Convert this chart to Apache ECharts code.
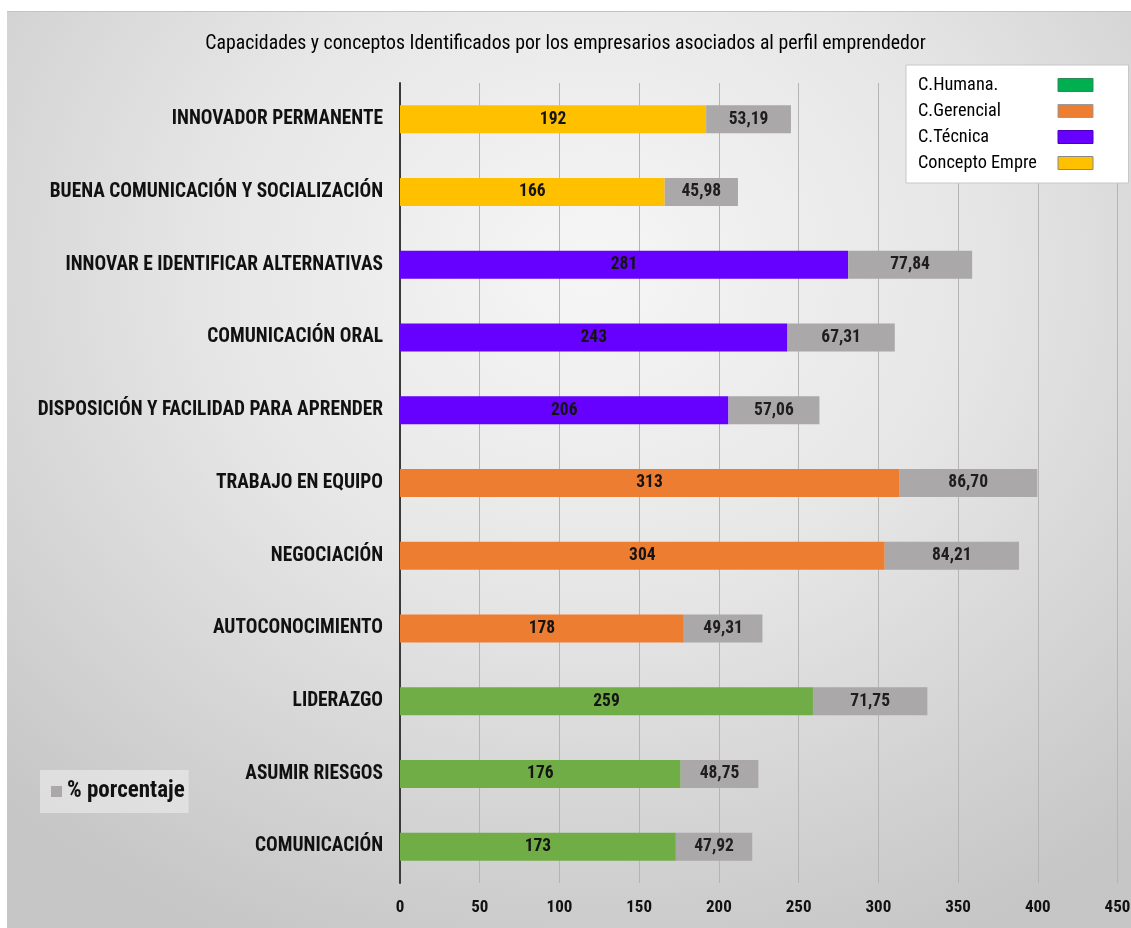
<!DOCTYPE html>
<html>
<head>
<meta charset="utf-8">
<script src="https://cdn.jsdelivr.net/npm/echarts@6/dist/echarts.min.js"></script>
<style>
  html, body { margin: 0; padding: 0; background: #ffffff; }
  #frame {
    position: absolute; left: 7px; top: 11px; width: 1124px; height: 917px;
    background: radial-gradient(ellipse 75% 80% at 52% 28%, #f6f6f6 0%, #e6e6e6 45%, #c6c6c6 100%);
    border-top: 1px solid #c4c4c4;
  }
  #chart { position: absolute; left: 0; top: 0; width: 1131px; height: 928px; }
</style>
</head>
<body>
<div id="frame"></div>
<div id="chart"></div>
<script>
const titleText = 'Capacidades y conceptos Identificados por los empresarios asociados al perfil emprendedor';

const categories = [
  'INNOVADOR PERMANENTE',
  'BUENA COMUNICACIÓN Y SOCIALIZACIÓN',
  'INNOVAR E IDENTIFICAR ALTERNATIVAS',
  'COMUNICACIÓN ORAL',
  'DISPOSICIÓN Y FACILIDAD PARA APRENDER',
  'TRABAJO EN EQUIPO',
  'NEGOCIACIÓN',
  'AUTOCONOCIMIENTO',
  'LIDERAZGO',
  'ASUMIR RIESGOS',
  'COMUNICACIÓN'
];

// group of each category (top to bottom)
const groups = [
  'Concepto Empre', 'Concepto Empre',
  'C.Técnica', 'C.Técnica', 'C.Técnica',
  'C.Gerencial', 'C.Gerencial', 'C.Gerencial',
  'C.Humana.', 'C.Humana.', 'C.Humana.'
];

const counts = [192, 166, 281, 243, 206, 313, 304, 178, 259, 176, 173];
const percents = [53.19, 45.98, 77.84, 67.31, 57.06, 86.70, 84.21, 49.31, 71.75, 48.75, 47.92];

const groupNames = ['C.Humana.', 'C.Gerencial', 'C.Técnica', 'Concepto Empre'];
const barColors = { 'C.Humana.': '#70AD47', 'C.Gerencial': '#ED7D31', 'C.Técnica': '#6600FF', 'Concepto Empre': '#FFC000' };
const legendColors = { 'C.Humana.': '#00B050', 'C.Gerencial': '#ED7D31', 'C.Técnica': '#6600FF', 'Concepto Empre': '#FFC000' };
const legendBorders = { 'C.Humana.': '#2E8B57', 'C.Gerencial': '#9a9a9a', 'C.Técnica': '#4a00c0', 'Concepto Empre': '#8a8a8a' };
const pctName = '% porcentaje';
const pctColor = '#AAA8A8';

const xTicks = { min: 0, max: 450, interval: 50 };

const FONT = "'Liberation Sans Narrow', 'Roboto Condensed', 'DejaVu Sans Condensed', 'Roboto', sans-serif";

// size text so that a sample string takes the width it has in the reference
const mctx = document.createElement('canvas').getContext('2d');
function fitSize(text, weight, target, maxSize) {
  mctx.font = weight + ' 100px ' + FONT;
  const s = 100 * target / mctx.measureText(text).width;
  return Math.min(maxSize, Math.round(s * 10) / 10);
}
const catSize = fitSize('DISPOSICIÓN Y FACILIDAD PARA APRENDER', 'bold', 346, 20);
const titleSize = fitSize(titleText, 'normal', 723, 20);
const legendSize = fitSize('Concepto Empre', 'normal', 119, 20);
const barLblSize = fitSize('86,70', 'bold', 44, 17.5);
const tickSize = 17;
const pctSize = fitSize(pctName, 'bold', 122, 23);

const chart = echarts.init(document.getElementById('chart'), null, { renderer: 'canvas' });

const groupSeries = groupNames.map(g => ({
  name: g,
  type: 'bar',
  stack: 'total',
  barWidth: 28,
  data: counts.map((v, i) => groups[i] === g ? v : '-'),
  itemStyle: { color: barColors[g] },
  label: {
    show: true, position: 'inside', color: '#141414',
    fontFamily: FONT, fontWeight: 'bold', fontSize: barLblSize
  }
}));

const pctSeries = {
  name: pctName,
  type: 'bar',
  stack: 'total',
  barWidth: 28,
  data: percents,
  itemStyle: { color: pctColor },
  label: {
    show: true, position: 'inside', color: '#1e1e1e',
    fontFamily: FONT, fontWeight: 'bold', fontSize: barLblSize,
    formatter: p => p.value.toFixed(2).replace('.', ',')
  }
};

chart.setOption({
  backgroundColor: 'transparent',
  animation: false,
  textStyle: { fontFamily: FONT },
  title: {
    text: titleText,
    left: 'center',
    top: 42 - titleSize * 0.65,
    textStyle: { fontFamily: FONT, fontSize: titleSize, fontWeight: 'normal', color: '#000' }
  },
  legend: [
    {
      data: groupNames.map(g => ({
        name: g,
        itemStyle: { color: legendColors[g], borderColor: legendBorders[g], borderWidth: 1 }
      })),
      orient: 'vertical',
      align: 'right',
      left: 906,
      top: 65,
      icon: 'rect',
      itemWidth: 35,
      itemHeight: 13,
      itemGap: 0,
      padding: [7, 35, 7, 12],
      backgroundColor: '#ffffff',
      borderColor: '#c8c8c8',
      borderWidth: 1,
      selectedMode: false,
      formatter: n => '{a|' + n + '}',
      textStyle: {
        rich: { a: { width: 135, align: 'left', fontFamily: FONT, fontSize: legendSize, color: '#000', lineHeight: 26, height: 26 } }
      }
    },
    {
      data: [pctName],
      left: 40,
      top: 770,
      icon: 'rect',
      itemWidth: 11,
      itemHeight: 11,
      padding: [10, 4, 10, 11],
      backgroundColor: 'rgba(240,240,240,0.55)',
      selectedMode: false,
      textStyle: { fontFamily: FONT, fontSize: pctSize, fontWeight: 'bold', color: '#111' }
    }
  ],
  grid: { left: 400, right: 13.5, top: 83, bottom: 45, containLabel: false, outerBoundsMode: 'none' },
  xAxis: {
    type: 'value',
    min: xTicks.min, max: xTicks.max, interval: xTicks.interval,
    axisLine: { show: false },
    axisTick: { show: false },
    splitLine: { show: true, lineStyle: { color: '#b4b4b4', width: 1 } },
    axisLabel: { fontFamily: FONT, fontWeight: 'bold', fontSize: tickSize, color: '#111', margin: 16 }
  },
  yAxis: {
    type: 'category',
    data: categories,
    inverse: true,
    axisLine: { show: true, lineStyle: { color: '#3a3a3a', width: 2 } },
    axisTick: { show: false },
    splitLine: { show: false },
    axisLabel: { fontFamily: FONT, fontWeight: 'bold', fontSize: catSize, color: '#111', margin: 17 }
  },
  series: [...groupSeries, pctSeries]
});
</script>
</body>
</html>
